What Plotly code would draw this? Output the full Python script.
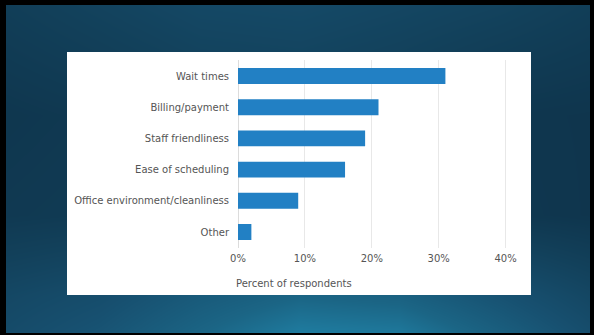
import plotly.graph_objects as go

W, H = 594, 335

# Survey data
categories = ["Wait times", "Billing/payment", "Staff friendliness",
              "Ease of scheduling", "Office environment/cleanliness", "Other"]
percent = [31, 21, 19, 16, 9, 2]
tick_values = [0, 10, 20, 30, 40]
tick_labels = ["0%", "10%", "20%", "30%", "40%"]

BAR_COLOR = "#2280c4"
TEXT_COLOR = "#555555"
FONT = "DejaVu Sans, Verdana, sans-serif"

# Backdrop shading: sample points in pixels (x from left, y from bottom), 0 = dark, 1 = light
shade_x = [0, 100, 200, 300, 400, 500, 594]
shade_y = [0, 40, 120, 220, 335]
shade = [
    [0.42, 0.55, 0.75, 0.95, 0.92, 0.68, 0.45],
    [0.36, 0.45, 0.62, 0.74, 0.70, 0.52, 0.34],
    [0.14, 0.17, 0.22, 0.25, 0.22, 0.12, 0.08],
    [0.10, 0.14, 0.20, 0.22, 0.18, 0.10, 0.08],
    [0.22, 0.30, 0.38, 0.40, 0.35, 0.30, 0.22],
]
backdrop_scale = [[0.0, "#0d3047"], [0.25, "#12405a"], [0.5, "#175070"],
                  [0.75, "#1b6585"], [1.0, "#2083a8"]]


def px_x(v):
    return v / W


def px_y(v):
    # pixel row measured from the top -> paper fraction from the bottom
    return (H - v) / H


fig = go.Figure()

# full-slide gradient backdrop
fig.add_trace(go.Heatmap(
    x=shade_x, y=shade_y, z=shade, zsmooth="best", colorscale=backdrop_scale,
    showscale=False, hoverinfo="skip", xaxis="x", yaxis="y", zmin=0, zmax=1,
))

# white card (its subplot background paints it)
fig.add_trace(go.Scatter(x=[0], y=[0], mode="markers", marker=dict(opacity=0),
                         hoverinfo="skip", showlegend=False, xaxis="x2", yaxis="y2"))

# horizontal bars
fig.add_trace(go.Bar(
    y=categories, x=percent, orientation="h", marker=dict(color=BAR_COLOR, line=dict(width=0)),
    xaxis="x3", yaxis="y3", hoverinfo="skip", showlegend=False,
))

hidden = dict(visible=False, showgrid=False, zeroline=False, fixedrange=True, automargin=False)

# thin black frame around the slide
frame = [
    (0, 0, 6, H),        # left
    (W - 4, 0, W, H),    # right
    (0, 0, W, 5),        # top
    (0, H - 2, W, H),    # bottom
]
shapes = [dict(type="rect", xref="paper", yref="paper", layer="above",
               x0=px_x(a), x1=px_x(c), y0=px_y(d), y1=px_y(b),
               fillcolor="#000000", line=dict(width=0))
          for a, b, c, d in frame]

fig.update_layout(
    template="none",
    width=W, height=H,
    margin=dict(l=0, r=0, t=0, b=0, pad=0, autoexpand=False),
    paper_bgcolor="#000000",
    plot_bgcolor="#ffffff",
    showlegend=False,
    bargap=0.49,
    font=dict(family=FONT, size=10, color=TEXT_COLOR),
    xaxis=dict(domain=[0, 1], anchor="y", range=[0, W], **hidden),
    yaxis=dict(domain=[0, 1], anchor="x", range=[0, H], **hidden),
    xaxis2=dict(domain=[px_x(67), px_x(531)], anchor="y2", **hidden),
    yaxis2=dict(domain=[px_y(295), px_y(52)], anchor="x2", **hidden),
    xaxis3=dict(
        domain=[px_x(238), px_x(519)], anchor="y3", range=[0, 42],
        tickvals=tick_values, ticktext=tick_labels,
        showgrid=True, gridcolor="#e8e8e8", gridwidth=1,
        zeroline=True, zerolinecolor="#dcdcdc", zerolinewidth=1,
        showline=False, ticks="", ticklabelstandoff=3, automargin=False,
        tickfont=dict(size=10, color=TEXT_COLOR), fixedrange=True,
    ),
    yaxis3=dict(
        domain=[px_y(247.6), px_y(60.4)], anchor="x3",
        categoryorder="array", categoryarray=categories[::-1],
        showgrid=False, zeroline=False, showline=False, ticks="", automargin=False,
        ticklabelstandoff=8, tickfont=dict(size=10, color=TEXT_COLOR), fixedrange=True,
    ),
    shapes=shapes,
    annotations=[dict(
        text="Percent of respondents", xref="paper", yref="paper",
        x=px_x(234), y=px_y(283), xanchor="left", yanchor="middle",
        showarrow=False, font=dict(size=10, color=TEXT_COLOR),
    )],
)

fig.write_html("out.html", config=dict(displayModeBar=False, staticPlot=True))
